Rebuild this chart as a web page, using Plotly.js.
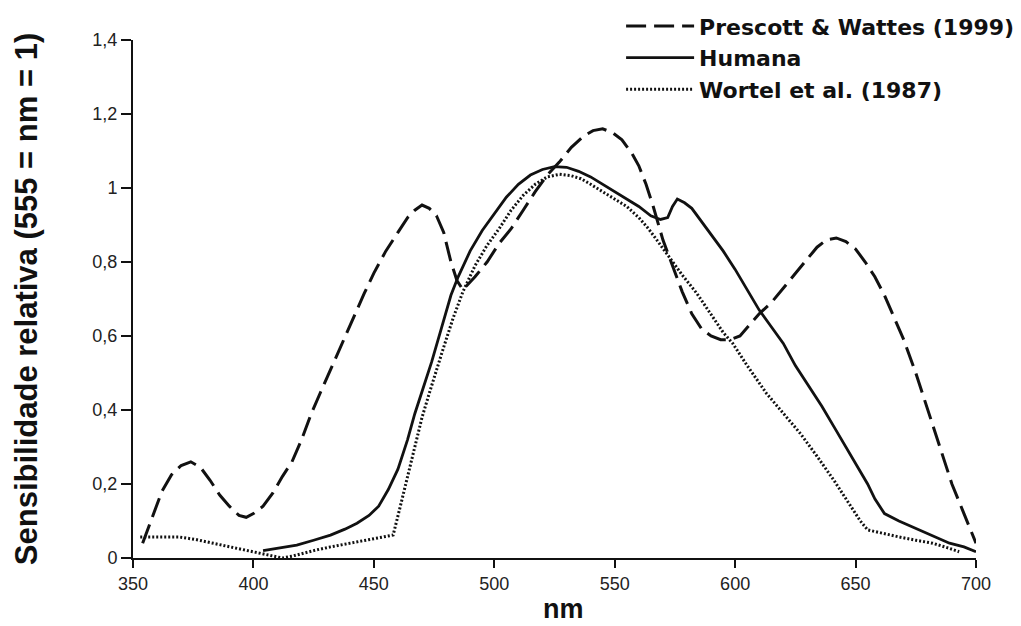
<!DOCTYPE html>
<html>
<head>
<meta charset="utf-8">
<script src="https://cdn.plot.ly/plotly-3.0.1.min.js"></script>
<style>html,body{margin:0;padding:0;background:#fff;}#chart{width:1021px;height:626px;}</style>
</head>
<body>
<div id="chart"></div>
<script>
// Prescott & Wattes (1999) — dashed
var prescottNm = [354,358,362,366,370,374,378,382,386,390,394,397,400,404,408,412,416,420,424,428,432,436,441,446,450,455,460,464,467,470,473,476,479,482,484.5,487,492,497,502,507,512,517,522,527,532,537,541,545,549,553,557,560,563,566,570,574,578,582,586,590,594,598,602,606,610,615,620,625,630,634,638,642,646,650,654,658,662,666,670,675,680,685,690,695,700];
var prescottVal = [0.04,0.11,0.18,0.225,0.25,0.26,0.245,0.21,0.17,0.14,0.115,0.11,0.12,0.14,0.175,0.22,0.26,0.32,0.39,0.45,0.51,0.57,0.643,0.715,0.77,0.83,0.88,0.92,0.94,0.954,0.945,0.925,0.88,0.80,0.75,0.725,0.76,0.80,0.85,0.89,0.94,0.99,1.035,1.07,1.11,1.14,1.155,1.16,1.15,1.13,1.095,1.06,1.01,0.95,0.86,0.79,0.72,0.66,0.62,0.60,0.59,0.59,0.60,0.63,0.66,0.69,0.73,0.77,0.81,0.84,0.86,0.865,0.855,0.835,0.80,0.76,0.71,0.65,0.59,0.50,0.40,0.30,0.20,0.12,0.04];

// Humana — solid
var humanaNm = [404,410,418,425,432,438,443,448,452,456,460,464,467,470,474,478,482,485,490,495,500,505,510,515,520,525,530,535,540,545,550,555,560,565,569,572,574,576,579,582,586,590,595,600,605,610,615,620,625,631,636,641,646,651,655,658,662,668,675,682,689,695,700];
var humanaVal = [0.02,0.027,0.035,0.048,0.062,0.078,0.094,0.115,0.14,0.185,0.24,0.32,0.39,0.45,0.53,0.62,0.71,0.76,0.83,0.885,0.93,0.975,1.01,1.035,1.05,1.058,1.056,1.045,1.03,1.01,0.99,0.97,0.95,0.925,0.915,0.92,0.95,0.97,0.96,0.945,0.91,0.875,0.83,0.78,0.725,0.67,0.625,0.58,0.52,0.46,0.41,0.355,0.30,0.245,0.20,0.16,0.12,0.10,0.08,0.06,0.04,0.03,0.017];

// Wortel et al. (1987) — dotted
var wortelNm = [353,360,369,376,383,390,397,404,408,412,416,420,425,432,440,446,452,458,461,464,467,470,473,476,479,483,487,492,497,502,507,512,517,522,527,532,536,540,545,549,555,560,564,568,573,578,584,590,595,599,605,613,620,627,634,641,647,652,655,660,668,675,682,688,693];
var wortelVal = [0.057,0.057,0.057,0.05,0.04,0.03,0.02,0.012,0.005,0.0,0.005,0.012,0.02,0.03,0.04,0.049,0.055,0.062,0.14,0.22,0.30,0.38,0.445,0.51,0.57,0.65,0.72,0.79,0.845,0.89,0.94,0.98,1.01,1.03,1.037,1.033,1.025,1.01,0.99,0.975,0.95,0.92,0.89,0.855,0.81,0.765,0.716,0.66,0.61,0.58,0.52,0.445,0.39,0.337,0.275,0.21,0.15,0.10,0.076,0.068,0.057,0.048,0.04,0.028,0.017];

var seriesNames = ['Prescott & Wattes (1999)', 'Humana', 'Wortel et al. (1987)'];

var xTickVals = [350,400,450,500,550,600,650,700];
var xTickText = ['350','400','450','500','550','600','650','700'];
var yTickVals = [0,0.2,0.4,0.6,0.8,1,1.2,1.4];
var yTickText = ['0','0,2','0,4','0,6','0,8','1','1,2','1,4'];

var xTitle = 'nm';
var yTitle = 'Sensibilidade relativa (555 = nm = 1)';

var traces = [
  {x: prescottNm, y: prescottVal, name: seriesNames[0], mode: 'lines', legendgroup: 'a',
   line: {color: '#111', width: 3, dash: '20px,8px'}},
  {x: humanaNm, y: humanaVal, name: seriesNames[1], mode: 'lines', legendgroup: 'b',
   line: {color: '#111', width: 2.8}},
  {x: wortelNm, y: wortelVal, name: seriesNames[2], mode: 'lines', legendgroup: 'c',
   line: {color: '#111', width: 3, dash: '2px,2px'}}
];

var tickFont = {family: 'Liberation Sans, Arial, sans-serif', size: 18, color: '#222'};
var layout = {
  width: 1021, height: 626,
  margin: {l: 133, r: 45, t: 40, b: 68, autoexpand: false},
  paper_bgcolor: '#fff', plot_bgcolor: '#fff',
  showlegend: true,
  legend: {
    x: 0.579, y: 1.0672, xanchor: 'left', yanchor: 'top',
    font: {family: 'DejaVu Sans, sans-serif', size: 22, color: '#111', weight: 'bold'},
    traceorder: 'grouped', tracegroupgap: 0, itemwidth: 68,
    bgcolor: 'rgba(0,0,0,0)'
  },
  xaxis: {
    range: [350, 700], tickvals: xTickVals, ticktext: xTickText,
    showline: true, linecolor: '#111', linewidth: 2, ticks: 'outside', ticklen: 8, tickwidth: 2, tickcolor: '#111',
    showgrid: false, zeroline: false, tickfont: tickFont
  },
  yaxis: {
    range: [0, 1.4], tickvals: yTickVals, ticktext: yTickText,
    showline: true, linecolor: '#111', linewidth: 2, ticks: 'outside', ticklen: 10, tickwidth: 2, tickcolor: '#111',
    showgrid: false, zeroline: false, tickfont: tickFont,
    title: {text: yTitle, font: {family: 'Liberation Sans, Arial, sans-serif', size: 31, color: '#111', weight: 'bold'}, standoff: 46}
  },
  annotations: [
    {text: xTitle, xref: 'paper', yref: 'paper', x: 0.511, y: -0.1313, xanchor: 'center', yanchor: 'bottom',
     showarrow: false, font: {family: 'Liberation Sans, Arial, sans-serif', size: 27, color: '#111', weight: 'bold'}}
  ]
};

Plotly.newPlot('chart', traces, layout, {displayModeBar: false, staticPlot: true});
</script>
</body>
</html>
